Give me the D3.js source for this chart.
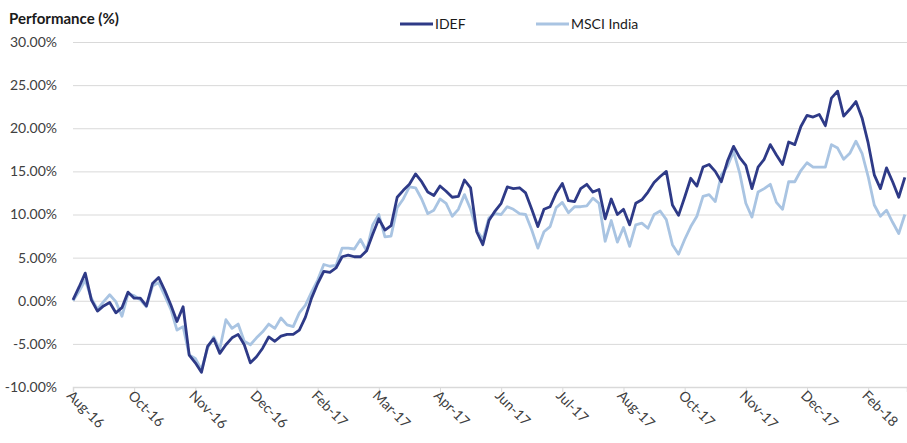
<!DOCTYPE html>
<html>
<head>
<meta charset="utf-8">
<script src="https://cdn.jsdelivr.net/npm/d3@7"></script>
<style>
    body { margin: 0; background: #fff; }
    svg { display: block; }
</style>
</head>
<body>
<svg id="chart" width="907" height="443"></svg>
<script>
// x轴标签，每10个点一个刻度
const tickLabels = ['Aug-16', 'Oct-16', 'Nov-16', 'Dec-16', 'Feb-17', 'Mar-17', 'Apr-17', 'Jun-17', 'Jul-17', 'Aug-17', 'Oct-17', 'Nov-17', 'Dec-17', 'Feb-18']
const yTicks = [-10, -5, 0, 5, 10, 15, 20, 25, 30]
const seriesNames = ['IDEF', 'MSCI India']

// 累计表现 (%)
const idef = [
    0.1, 1.6, 3.2, 0.1, -1.2, -0.6, -0.2, -1.4, -0.8, 1.0,
    0.3, 0.3, -0.6, 2.0, 2.7, 1.2, -0.5, -2.4, -0.7, -6.3,
    -7.2, -8.3, -5.3, -4.4, -6.1, -5.1, -4.3, -3.9, -5.1, -7.2,
    -6.5, -5.5, -4.2, -4.7, -4.1, -3.9, -3.9, -3.4, -1.9, 0.3,
    2.0, 3.4, 3.3, 3.8, 5.1, 5.3, 5.1, 5.1, 5.8, 7.7,
    9.5, 8.2, 8.7, 12.0, 12.8, 13.5, 14.7, 13.8, 12.6, 12.2,
    13.3, 12.7, 12.0, 12.1, 14.0, 13.1, 8.0, 6.5, 9.3, 10.4,
    11.3, 13.2, 13.0, 13.1, 12.5, 10.6, 8.6, 10.6, 10.9, 12.5,
    13.6, 11.6, 11.5, 13.0, 13.5, 12.6, 12.9, 9.5, 11.8, 10.0,
    10.6, 8.8, 11.3, 11.7, 12.6, 13.7, 14.4, 15.0, 11.1, 9.9,
    12.0, 14.2, 13.3, 15.5, 15.8, 15.0, 13.8, 16.2, 17.9, 16.6,
    15.7, 13.0, 15.5, 16.4, 18.1, 16.9, 15.8, 18.4, 18.1, 20.2,
    21.5, 21.3, 21.6, 20.3, 23.5, 24.3, 21.4, 22.2, 23.1, 21.2,
    18.3, 14.6, 13.0, 15.4, 13.8, 12.0, 14.3
]
const msci = [
    0.0, 1.1, 2.4, 0.3, -1.0, -0.1, 0.7, -0.1, -1.8, 0.8,
    0.6, 0.1, -0.7, 1.7, 2.1, 0.6, -1.0, -3.4, -3.0, -6.3,
    -6.7, -8.0, -5.5, -4.2, -5.6, -2.2, -3.2, -2.7, -4.7, -5.1,
    -4.3, -3.6, -2.7, -3.2, -2.0, -2.8, -3.0, -1.4, -0.5, 1.0,
    2.4, 4.2, 4.0, 4.1, 6.1, 6.1, 6.0, 7.1, 5.8, 8.8,
    10.0, 7.4, 7.5, 10.8, 11.8, 13.2, 13.1, 11.8, 10.1, 10.5,
    11.8, 11.3, 9.8, 10.6, 12.3, 10.6, 8.2, 7.1, 9.6, 10.1,
    10.0, 10.9, 10.6, 10.1, 10.0, 8.2, 6.1, 8.0, 8.6, 10.8,
    11.4, 10.2, 10.9, 10.9, 11.0, 11.9, 11.3, 6.9, 9.3, 6.8,
    8.5, 6.3, 8.8, 9.0, 8.4, 10.0, 10.4, 9.4, 6.5, 5.4,
    7.1, 8.6, 9.8, 12.1, 12.3, 11.5, 14.6, 15.6, 17.3, 14.8,
    11.3, 9.7, 12.6, 13.0, 13.5, 11.4, 10.6, 13.8, 13.8, 15.1,
    16.0, 15.5, 15.5, 15.5, 18.1, 17.7, 16.4, 17.1, 18.5, 17.1,
    14.4, 11.1, 9.8, 10.5, 9.1, 7.8, 10.0
]

const style = {
    font: 'Lato, "Open Sans", sans-serif',
    grid: '#d9d9d9',
    text: '#404040',
    color: ['#2e3a87', '#a9c4e2'],
    margin: { left: 73, right: 0, top: 42, bottom: 56 }
}

const svg = d3.select('#chart')
const width = +svg.attr('width')
const height = +svg.attr('height')

// 比例尺
const x = d3.scaleLinear()
    .domain([0, 136.35])
    .range([style.margin.left, width - style.margin.right])
const y = d3.scaleLinear()
    .domain([-10, 30])
    .range([height - style.margin.bottom, style.margin.top])

// 网格线 + y轴
const yAxis = svg.append('g')
    .attr('transform', `translate(${style.margin.left},0)`)
    .call(d3.axisLeft(y)
        .tickValues(yTicks)
        .tickSize(-(width - style.margin.left - style.margin.right))
        .tickPadding(16)
        .tickFormat((d) => d.toFixed(2) + '%'))
yAxis.select('.domain').remove()
yAxis.selectAll('line').attr('stroke', style.grid).attr('stroke-width', 1)
yAxis.selectAll('text')
    .attr('font-family', style.font)
    .attr('font-size', '14px')
    .attr('fill', style.text)

// x轴
const xAxis = svg.append('g')
    .attr('transform', `translate(0,${y(-10)})`)
    .call(d3.axisBottom(x)
        .tickValues(tickLabels.map((d, i) => i * 10))
        .tickSize(5)
        .tickFormat((d) => tickLabels[d / 10]))
xAxis.select('.domain').attr('stroke', style.grid).attr('stroke-width', 1.5)
xAxis.selectAll('line').attr('stroke', style.grid)
xAxis.selectAll('text')
    .attr('font-family', style.font)
    .attr('font-size', '14px')
    .attr('fill', style.text)
    .attr('text-anchor', 'start')
    // 斜45度显示
    .attr('transform', 'translate(-4,6) rotate(45)')
    .attr('y', 0)
    .attr('dy', '0.35em')

// 折线
const line = d3.line()
    .x((d, i) => x(i))
    .y((d) => y(d))

const series = [msci, idef]
const colors = [style.color[1], style.color[0]]
svg.append('g')
    .selectAll('path')
    .data(series)
    .join('path')
    .attr('d', line)
    .attr('fill', 'none')
    .attr('stroke', (d, i) => colors[i])
    .attr('stroke-width', 2.8)
    .attr('stroke-linejoin', 'round')

// 标题
svg.append('text')
    .text('Performance (%)')
    .attr('x', 9)
    .attr('y', 24)
    .attr('font-family', style.font)
    .attr('font-size', '15px')
    .attr('font-weight', 'bold')
    .attr('fill', '#1a1a1a')

// 图例
const legendX = [400, 536]
const legend = svg.append('g')
    .selectAll('g')
    .data(seriesNames)
    .join('g')
    .attr('transform', (d, i) => `translate(${legendX[i]},24)`)
legend.append('line')
    .attr('x1', 0)
    .attr('x2', 33)
    .attr('stroke', (d, i) => style.color[i])
    .attr('stroke-width', 2.8)
legend.append('text')
    .text((d) => d)
    .attr('x', 35)
    .attr('dy', '0.35em')
    .attr('font-family', style.font)
    .attr('font-size', '14px')
    .attr('fill', '#1a1a1a')
</script>
</body>
</html>
